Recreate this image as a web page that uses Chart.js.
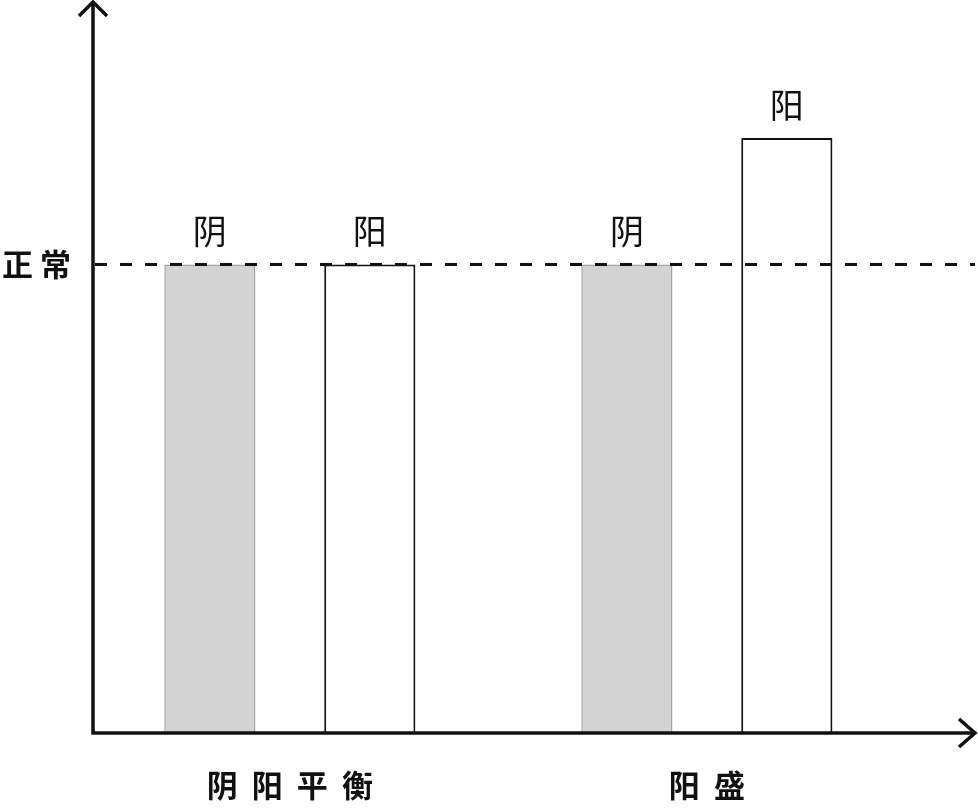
<!DOCTYPE html>
<html>
<head>
<meta charset="utf-8">
<script src="https://cdn.jsdelivr.net/npm/chart.js@4.4.1/dist/chart.umd.min.js"></script>
<style>
  html, body { margin: 0; padding: 0; background: #fff; }
  #wrap { width: 978px; height: 808px; }
</style>
</head>
<body>
<div id="wrap"><canvas id="chart" width="978" height="808"></canvas></div>
<script>
// data
const categories = ['阴  阳  平  衡', '阳  盛'];
const categoryPos = [1, 2];
const seriesNames = ['阴', '阳'];
const yinValues = [100, 100];
const yangValues = [100, 127];
const normalValue = 100;
const normalLabel = '正 常';

const CJK = '"Noto Sans CJK SC", "Noto Sans", sans-serif';
const ink = '#111';

function toPoints(vals) {
    return vals.map(function (v, i) { return { x: categoryPos[i], y: v } });
}

// dashed "normal" line, drawn over the bars
const normalLine = {
    id: 'normalLine',
    afterDatasetsDraw(chart) {
        const ctx = chart.ctx;
        const area = chart.chartArea;
        const y = chart.scales.y.getPixelForValue(normalValue);
        ctx.save();
        ctx.strokeStyle = ink;
        ctx.lineWidth = 3;
        ctx.setLineDash([12, 13]);
        ctx.beginPath();
        ctx.moveTo(area.left + 2, y);
        ctx.lineTo(area.right, y);
        ctx.stroke();
        ctx.restore();
    }
};

// 阴 / 阳 above every bar
const barLabels = {
    id: 'barLabels',
    afterDatasetsDraw(chart) {
        const ctx = chart.ctx;
        ctx.save();
        ctx.fillStyle = ink;
        ctx.font = '34px ' + CJK;
        ctx.textAlign = 'center';
        ctx.textBaseline = 'middle';
        chart.data.datasets.forEach(function (ds, di) {
            chart.getDatasetMeta(di).data.forEach(function (bar) {
                ctx.fillText(seriesNames[di], bar.x, bar.y - 33);
            });
        });
        ctx.restore();
    }
};

// axis lines with arrow heads
const arrowAxes = {
    id: 'arrowAxes',
    afterDraw(chart) {
        const ctx = chart.ctx;
        const a = chart.chartArea;
        ctx.save();
        ctx.strokeStyle = ink;
        ctx.lineWidth = 3.5;
        ctx.lineCap = 'butt';
        ctx.beginPath();
        ctx.moveTo(a.left, a.bottom + 1.5);
        ctx.lineTo(a.left, a.top);
        ctx.moveTo(a.left - 1.5, a.bottom);
        ctx.lineTo(a.right, a.bottom);
        ctx.stroke();
        ctx.lineJoin = 'miter';
        ctx.beginPath();
        ctx.moveTo(a.left - 14, a.top + 14);
        ctx.lineTo(a.left, a.top);
        ctx.lineTo(a.left + 14, a.top + 14);
        ctx.moveTo(a.right - 16, a.bottom - 14);
        ctx.lineTo(a.right, a.bottom);
        ctx.lineTo(a.right - 16, a.bottom + 14);
        ctx.stroke();
        ctx.restore();
    }
};

new Chart(document.getElementById('chart'), {
    type: 'bar',
    data: {
        datasets: [
            {
                label: seriesNames[0],
                data: toPoints(yinValues),
                backgroundColor: '#d3d3d3',
                borderColor: '#a3a3a3',
                borderWidth: 1.5
            },
            {
                label: seriesNames[1],
                data: toPoints(yangValues),
                backgroundColor: '#ffffff',
                borderColor: ink,
                borderWidth: 2
            }
        ]
    },
    options: {
        responsive: false,
        animation: false,
        categoryPercentage: 0.767,
        barPercentage: 0.57,
        layout: { padding: { top: 2, right: 3, left: 0, bottom: 0 } },
        plugins: {
            legend: { display: false },
            tooltip: { enabled: false }
        },
        scales: {
            x: {
                type: 'linear',
                offset: false,
                min: 0.528,
                max: 2.643,
                grid: { display: false },
                border: { display: false },
                afterBuildTicks: function (s) {
                    s.ticks = categoryPos.map(function (v) { return { value: v } });
                },
                afterFit: function (s) {
                    s.height = 75;
                    s.paddingLeft = 0;
                    s.paddingRight = 0;
                },
                ticks: {
                    padding: 26,
                    color: ink,
                    maxRotation: 0,
                    autoSkip: false,
                    font: { family: CJK, size: 31, weight: 'bold' },
                    callback: function (v) {
                        const i = categoryPos.indexOf(v);
                        return i >= 0 ? categories[i] : '';
                    }
                }
            },
            y: {
                min: 0,
                max: 156,
                grid: { display: false },
                border: { display: false },
                afterBuildTicks: function (s) {
                    s.ticks = [{ value: normalValue }];
                },
                afterFit: function (s) {
                    s.width = 93;
                    s.paddingTop = 0;
                    s.paddingBottom = 0;
                },
                ticks: {
                    padding: 14,
                    color: ink,
                    font: { family: CJK, size: 31, weight: 'bold' },
                    callback: function () { return normalLabel }
                }
            }
        }
    },
    plugins: [normalLine, barLabels, arrowAxes]
});
</script>
</body>
</html>
